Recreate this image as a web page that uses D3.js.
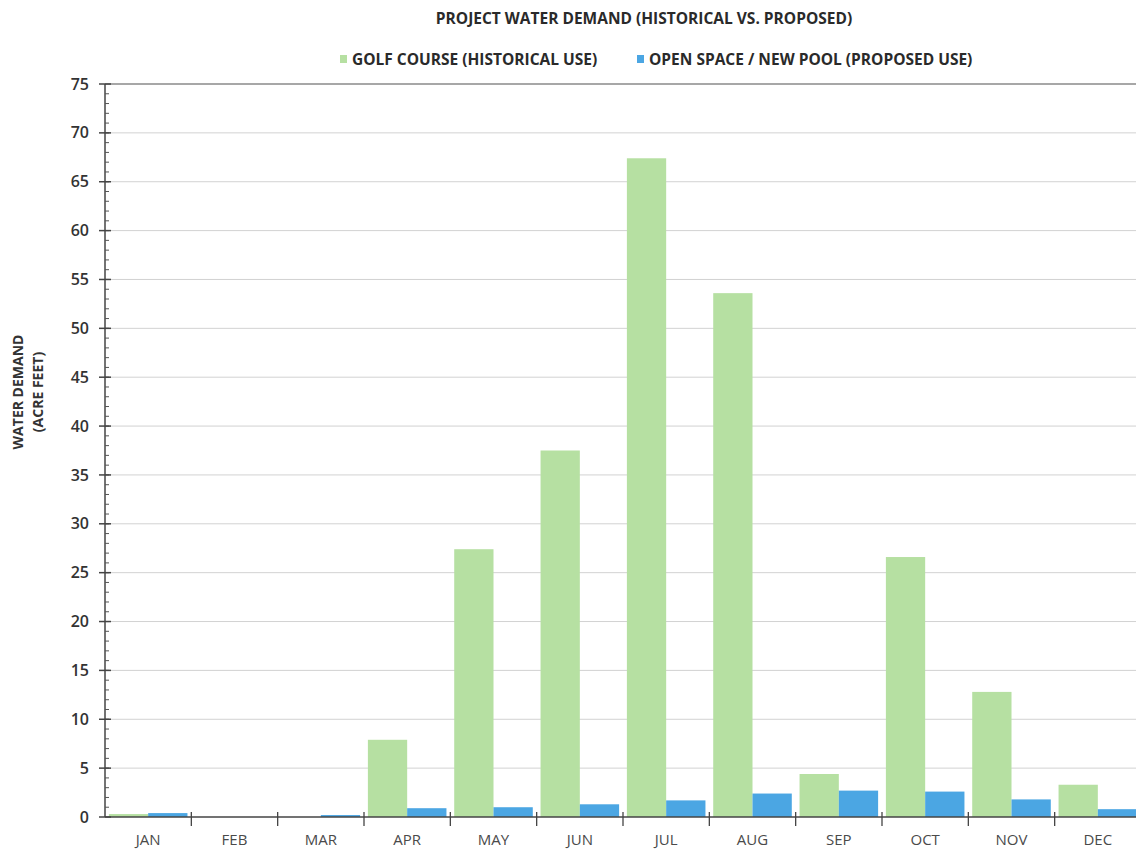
<!DOCTYPE html>
<html>
<head>
<meta charset="utf-8">
<script src="https://cdn.jsdelivr.net/npm/d3@7"></script>
<style>
  html, body { margin: 0; padding: 0; background: #ffffff; }
  svg { display: block; }
  text { font-family: "Open Sans", "Noto Sans", sans-serif; }
</style>
</head>
<body>
<svg id="chart" width="1136" height="852"></svg>
<script>
// Monthly water demand, acre feet
const months = ["JAN","FEB","MAR","APR","MAY","JUN","JUL","AUG","SEP","OCT","NOV","DEC"];
const golfHistorical = [0.3, 0, 0, 7.9, 27.4, 37.5, 67.4, 53.6, 4.4, 26.6, 12.8, 3.3];
const openSpaceProposed = [0.4, 0, 0.2, 0.9, 1.0, 1.3, 1.7, 2.4, 2.7, 2.6, 1.8, 0.8];
const seriesNames = ["GOLF COURSE (HISTORICAL USE)", "OPEN SPACE / NEW POOL (PROPOSED USE)"];
const yTicks = [0,5,10,15,20,25,30,35,40,45,50,55,60,65,70,75];
const chartTitle = "PROJECT WATER DEMAND (HISTORICAL VS. PROPOSED)";
const yTitle = ["WATER DEMAND", "(ACRE FEET)"];

const colors = ["#b6e0a2", "#4ba6e3"];

const svg = d3.select("#chart");
const plotLeft = 105, plotRight = 1141, plotTop = 84, plotBottom = 817;

const x = d3.scaleBand().domain(months).range([plotLeft, plotRight]).paddingInner(0.09).paddingOuter(0.045);
const xSub = d3.scaleBand().domain([0, 1]).range([0, x.bandwidth()]);
const y = d3.scaleLinear().domain([0, 75]).range([plotBottom, plotTop]);

// Horizontal gridlines
svg.append("g").selectAll("line").data(yTicks.filter(d => d > 0)).join("line")
  .attr("x1", plotLeft).attr("x2", 1136)
  .attr("y1", d => y(d)).attr("y2", d => y(d))
  .attr("stroke", d => (d === 75 ? "#8a8a8a" : "#d2d2d2"))
  .attr("stroke-width", d => (d === 75 ? 1.3 : 1));

// Bars
const rows = months.map((m, i) => ({ month: m, values: [golfHistorical[i], openSpaceProposed[i]] }));
const groups = svg.append("g").selectAll("g").data(rows).join("g")
  .attr("transform", d => `translate(${x(d.month)},0)`);
groups.selectAll("rect").data(d => d.values.map((v, k) => ({ v, k }))).join("rect")
  .attr("x", d => xSub(d.k))
  .attr("width", xSub.bandwidth())
  .attr("y", d => y(d.v))
  .attr("height", d => y(0) - y(d.v))
  .attr("fill", d => colors[d.k]);

// X axis: baseline, month boundary ticks, labels
const step = x.step();
const xAxis = svg.append("g");
xAxis.append("line")
  .attr("x1", plotLeft).attr("x2", 1136).attr("y1", y(0)).attr("y2", y(0))
  .attr("stroke", "#444").attr("stroke-width", 1.5);
xAxis.selectAll("line.tk").data(months.slice(1)).join("line")
  .attr("class", "tk")
  .attr("x1", d => x(d) - step * 0.045).attr("x2", d => x(d) - step * 0.045)
  .attr("y1", y(0) - 5).attr("y2", y(0) + 9)
  .attr("stroke", "#444").attr("stroke-width", 1.3);
xAxis.selectAll("text").data(months).join("text")
  .attr("x", d => x(d) + x.bandwidth() / 2)
  .attr("y", 845)
  .attr("text-anchor", "middle")
  .attr("font-size", 15)
  .attr("fill", "#4a4a4a")
  .text(d => d);

// Y axis with minor ticks every unit
const yAxis = svg.append("g").attr("transform", `translate(${plotLeft},0)`);
yAxis.append("line").attr("x1", 0).attr("x2", 0).attr("y1", y(75)).attr("y2", y(0))
  .attr("stroke", "#444").attr("stroke-width", 1.5);
yAxis.selectAll("line.minor").data(d3.range(1, 75)).join("line")
  .attr("class", "minor")
  .attr("x1", 0).attr("x2", 4)
  .attr("y1", d => y(d)).attr("y2", d => y(d))
  .attr("stroke", "#555").attr("stroke-width", 1);
yAxis.selectAll("line.major").data(yTicks).join("line")
  .attr("class", "major")
  .attr("x1", -6).attr("x2", 6)
  .attr("y1", d => y(d)).attr("y2", d => y(d))
  .attr("stroke", "#444").attr("stroke-width", 1.5);
yAxis.selectAll("text").data(yTicks).join("text")
  .attr("x", -16)
  .attr("y", d => y(d))
  .attr("dy", "0.35em")
  .attr("text-anchor", "end")
  .attr("font-size", 16)
  .attr("font-weight", 600)
  .attr("fill", "#333")
  .text(d => d);

// Y axis title
const yt = svg.append("text")
  .attr("transform", "translate(23,392) rotate(-90)")
  .attr("text-anchor", "middle")
  .attr("font-size", 14)
  .attr("font-weight", 700)
  .attr("fill", "#333");
yt.append("tspan").attr("x", 0).attr("y", 0).text(yTitle[0]);
yt.append("tspan").attr("x", 0).attr("y", 20).text(yTitle[1]);

// Title
svg.append("text")
  .attr("x", 644).attr("y", 24)
  .attr("text-anchor", "middle")
  .attr("font-size", 15.5)
  .attr("font-weight", 700)
  .attr("fill", "#2a2a2a")
  .text(chartTitle);

// Legend
const legendX = [340, 637];
const legend = svg.append("g").selectAll("g").data(seriesNames).join("g")
  .attr("transform", (d, i) => `translate(${legendX[i]},60)`);
legend.append("rect").attr("x", 0).attr("y", -5).attr("width", 7).attr("height", 8)
  .attr("fill", (d, i) => colors[i]);
legend.append("text").attr("x", 12).attr("y", 0).attr("dy", "0.35em")
  .attr("font-size", 15.5).attr("font-weight", 700).attr("fill", "#2a2a2a")
  .text(d => d);
</script>
</body>
</html>
